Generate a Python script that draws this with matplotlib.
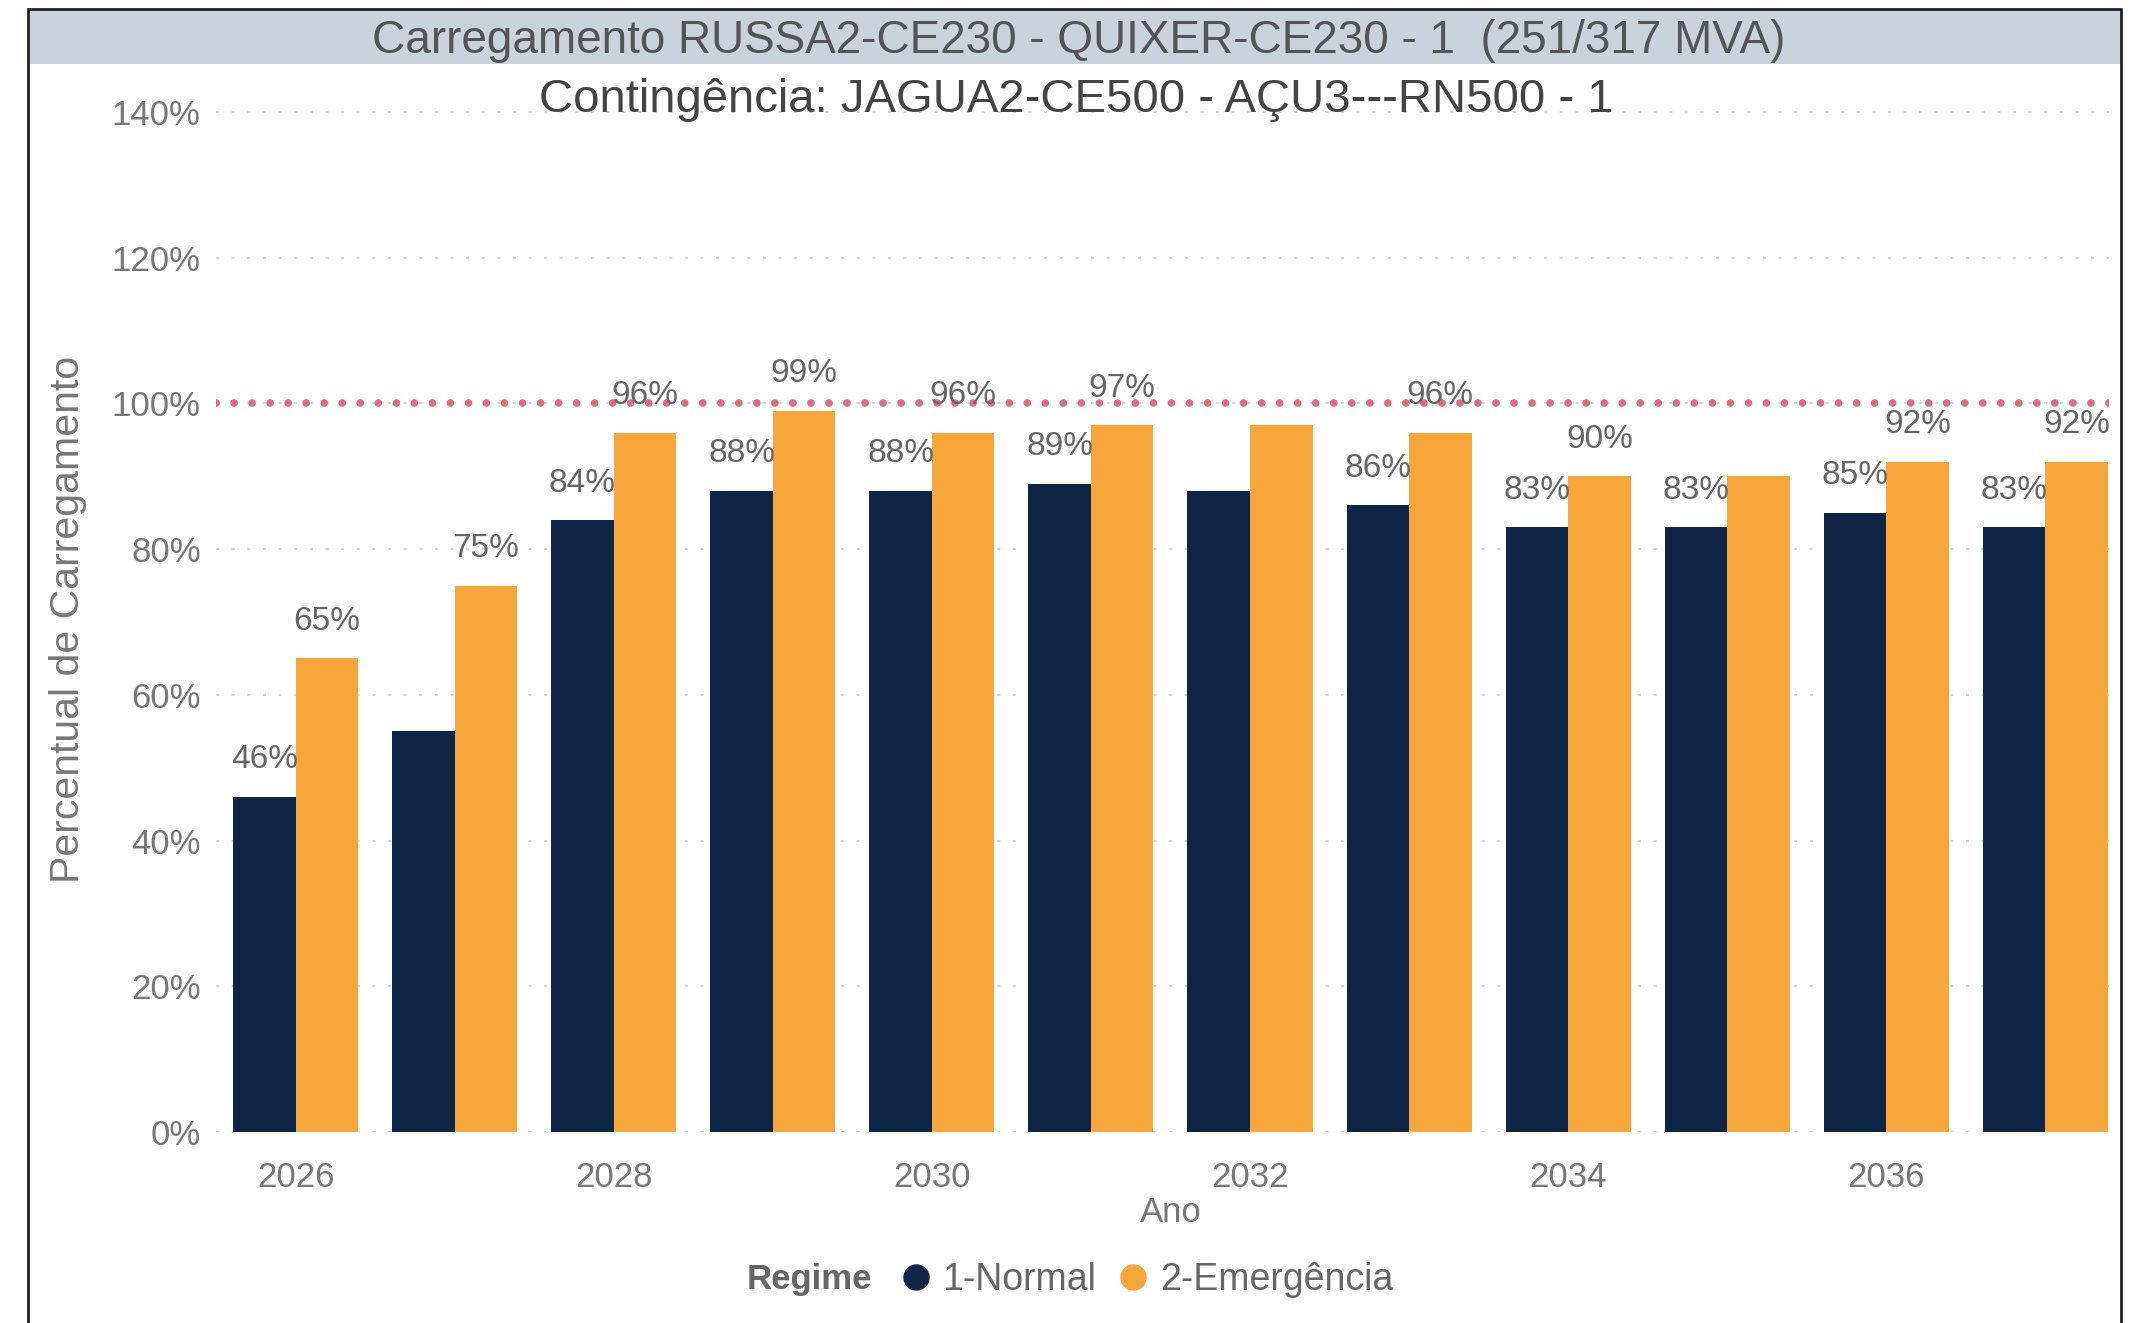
import matplotlib
matplotlib.use("Agg")
import matplotlib.pyplot as plt
from matplotlib.patches import Rectangle
from matplotlib.lines import Line2D
import numpy as np

# data
years = [2026, 2027, 2028, 2029, 2030, 2031, 2032, 2033, 2034, 2035, 2036, 2037]
normal = [46, 55, 84, 88, 88, 89, 88, 86, 83, 83, 85, 83]
emergencia = [65, 75, 96, 99, 96, 97, 97, 96, 90, 90, 92, 92]
# which data labels are visible in the picture
normal_show = [1, 0, 1, 1, 1, 1, 0, 1, 1, 1, 1, 1]
emerg_show = [1, 1, 1, 1, 1, 1, 0, 1, 1, 0, 1, 1]
yticks = [0, 20, 40, 60, 80, 100, 120, 140]
limit = 100

title = "Carregamento RUSSA2-CE230 - QUIXER-CE230 - 1  (251/317 MVA)"
subtitle = "Contingência: JAGUA2-CE500 - AÇU3---RN500 - 1"

navy = "#0f2545"
orange = "#f6a63a"
W, H = 2147, 1323

plt.rcParams['font.family'] = ['Liberation Sans', 'DejaVu Sans']

fig = plt.figure(figsize=(W / 100, H / 100), dpi=100)
ax = fig.add_axes([216 / W, (H - 1132) / H, (2109 - 216) / W, 1034.6 / H])

x = np.arange(len(years))
w = 0.393
b1 = ax.bar(x - w / 2, normal, w, color=navy, zorder=2)
b2 = ax.bar(x + w / 2, emergencia, w, color=orange, zorder=2)

for bars, vals, show in [(b1, normal, normal_show), (b2, emergencia, emerg_show)]:
    for rect, v, s in zip(bars, vals, show):
        if not s:
            continue
        ax.annotate(f"{v}%", (rect.get_x() + rect.get_width() / 2, v),
                    xytext=(0, 20.5), textcoords="offset points",
                    ha="center", va="baseline", fontsize=24, color="#666666", zorder=4)

ax.axhline(limit, color="#e46a7b", lw=5.5, linestyle=(0, (0.01, 2.35)),
           dash_capstyle="round", zorder=3)

ax.set_xlim(-0.5, 11.4)
ax.set_ylim(0, 142)
ax.set_yticks(yticks)
ax.set_yticklabels([f"{t}%" for t in yticks])
ax.set_xticks(x[::2])
ax.set_xticklabels([str(y) for y in years[::2]])
ax.yaxis.grid(True, color="#d6d6d6", lw=1.5, linestyle=(0, (1.5, 6)), zorder=0)
ax.tick_params(axis="y", length=0, pad=11, labelsize=25, labelcolor="#777777")
ax.tick_params(axis="x", length=0, pad=21, labelsize=25, labelcolor="#777777")
for s in ax.spines.values():
    s.set_visible(False)

fig.text(1171 / W, (H - 1213) / H, "Ano", ha="center", va="center", fontsize=25, color="#777777")
fig.text(68 / W, (H - 619) / H, "Percentual de Carregamento", rotation=90,
         ha="center", va="center", fontsize=29.5, color="#777777")

# title band and frame
fig.patches.append(Rectangle((28 / W, (H - 64) / H), (2121 - 28) / W, 54 / H,
                             transform=fig.transFigure, facecolor="#cad2db",
                             edgecolor="none", zorder=0))
fig.patches.append(Rectangle((28 / W, -0.1), (2121 - 28) / W, 1.1 - 9 / H,
                             transform=fig.transFigure, facecolor="none",
                             edgecolor="#222222", lw=2, zorder=5))
fig.text(1079 / W, (H - 41) / H, title, ha="center", va="center", fontsize=33, color="#555555")
fig.text(1076 / W, (H - 100) / H, subtitle, ha="center", va="center", fontsize=34, color="#444444")

# legend
fig.text(872 / W, (H - 1280) / H, "Regime", ha="right", va="center", fontsize=25,
         fontweight="bold", color="#666666")
handles = [Line2D([], [], marker="o", ls="none", color=navy, markersize=18),
           Line2D([], [], marker="o", ls="none", color=orange, markersize=18)]
ax.legend(handles, ["1-Normal", "2-Emergência"], loc="center left",
          bbox_to_anchor=(882 / W, (H - 1280) / H), bbox_transform=fig.transFigure,
          ncol=2, frameon=False, fontsize=27, labelcolor="#666666",
          handlelength=0.8, handletextpad=0.3, columnspacing=0.6, borderpad=0)

fig.savefig("out.png", dpi=100, facecolor="white")
